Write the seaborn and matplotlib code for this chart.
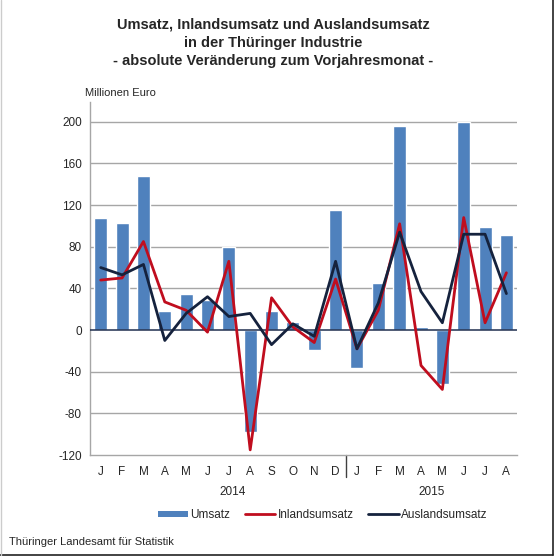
import numpy as np
import pandas as pd
import matplotlib
matplotlib.use("Agg")
import matplotlib.pyplot as plt
import seaborn as sns
from matplotlib.lines import Line2D
from matplotlib.patches import Patch

sns.set_theme(style="white")
plt.rcParams['font.family'] = ['Liberation Sans', 'DejaVu Sans']

months = ["J", "F", "M", "A", "M", "J", "J", "A", "S", "O", "N", "D",
          "J", "F", "M", "A", "M", "J", "J", "A"]
years = ["2014", "2015"]
umsatz = [108, 103, 148, 18, 35, 29, 80, -98, 18, 8, -19, 115,
          -36, 45, 196, 3, -52, 200, 99, 91]
inland = [48, 50, 85, 27, 19, -2, 66, -115, 31, 3, -12, 49,
          -18, 19, 102, -34, -57, 108, 7, 55]
ausland = [60, 53, 63, -10, 16, 32, 13, 16, -14, 6, -6, 66,
           -18, 26, 94, 37, 7, 92, 92, 35]
yticks = [-120, -80, -40, 0, 40, 80, 120, 160, 200]

BLUE = "#4f81bd"
RED = "#c00d1e"
NAVY = "#15223d"

idx = np.arange(len(months))
df = pd.DataFrame({"pos": idx, "Umsatz": umsatz,
                   "Inlandsumsatz": inland, "Auslandsumsatz": ausland})

fig = plt.figure(figsize=(5.56, 5.57), dpi=100)
ax = fig.add_axes([0.162, 0.183, 0.768, 0.634])

for y in yticks[1:]:
    if y == 0:
        continue
    ax.axhline(y, color="#a6a6a6", lw=1.0, zorder=0)

sns.barplot(data=df, x="pos", y="Umsatz", color=BLUE, width=0.61,
            saturation=1, ax=ax, zorder=2)
ax.axhline(0, color="#1f2f4f", lw=1.1, zorder=3)
sns.lineplot(data=df, x="pos", y="Inlandsumsatz", color=RED, lw=2.0,
             ax=ax, zorder=4)
sns.lineplot(data=df, x="pos", y="Auslandsumsatz", color=NAVY, lw=2.0,
             ax=ax, zorder=5)

ax.set_xlim(-0.5, len(months) - 0.5)
ax.set_ylim(-120, 219)
ax.set_yticks(yticks)
ax.set_yticklabels([str(v) for v in yticks], fontsize=8.5)
ax.set_xticks(idx)
ax.set_xticklabels(months, fontsize=8.5)
ax.tick_params(axis="both", length=0, pad=6)
ax.tick_params(axis="x", pad=8)
ax.set_xlabel("")
ax.set_ylabel("")
for s in ["top", "right"]:
    ax.spines[s].set_visible(False)
for s in ["left", "bottom"]:
    ax.spines[s].set_color("#a6a6a6")
    ax.spines[s].set_linewidth(1.0)

# year separator and labels
trans = ax.get_xaxis_transform()
ax.plot([11.5, 11.5], [0, -0.062], transform=trans, color="#404040",
        lw=1.0, clip_on=False)
ax.text(6.2, -0.104, years[0], transform=trans, ha="center", va="center",
        fontsize=8.5)
ax.text(15.5, -0.104, years[1], transform=trans, ha="center", va="center",
        fontsize=8.5)

fig.text(0.492, 0.968, "Umsatz, Inlandsumsatz und Auslandsumsatz\n"
         "in der Thüringer Industrie\n"
         "- absolute Veränderung zum Vorjahresmonat -",
         ha="center", va="top", fontsize=10.5, fontweight="bold",
         linespacing=1.38)
fig.text(0.153, 0.833, "Millionen Euro", fontsize=8, ha="left", va="center")
fig.text(0.016, 0.027, "Thüringer Landesamt für Statistik", fontsize=8,
         ha="left", va="center")

handles = [Patch(facecolor=BLUE, edgecolor="none"),
           Line2D([0], [0], color=RED, lw=2),
           Line2D([0], [0], color=NAVY, lw=2)]
fig.legend(handles, ["Umsatz", "Inlandsumsatz", "Auslandsumsatz"],
           loc="center", bbox_to_anchor=(0.58, 0.075), ncol=3,
           frameon=False, fontsize=8.5, handlelength=2.6, handleheight=0.5,
           handletextpad=0.2, columnspacing=1.2)

# outer frame
fig.add_artist(Line2D([0.995, 0.995], [0.004, 1.0], color="#222222", lw=1.2,
                      transform=fig.transFigure))
fig.add_artist(Line2D([0.0, 0.995], [0.004, 0.004], color="#222222", lw=1.2,
                      transform=fig.transFigure))
fig.add_artist(Line2D([0.001, 0.001], [0.004, 1.0], color="#cccccc", lw=1.0,
                      transform=fig.transFigure))

fig.savefig("out.png", dpi=100)
